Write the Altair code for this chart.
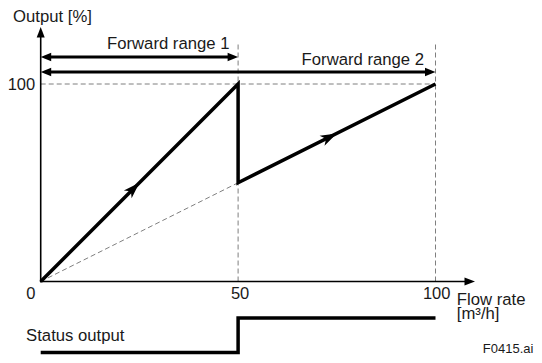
import altair as alt
import pandas as pd

# ---- data (diagram units: flow rate 0..100, output 0..100 %) ----
flow = [0, 50, 50, 100]
output = [0, 100, 50, 100]

status_flow = [0, 50, 50, 100]
status_level = [-35.9, -35.9, -18.5, -18.5]

guide_seg = ["diag", "diag", "h100", "h100", "v50", "v50", "v100", "v100"]
guide_x = [0, 50, 0, 100, 50, 50, 100, 100]
guide_y = [0, 50, 100, 100, 0, 120.8, 0, 120.8]

x_ticks = [0, 50, 100]
x_tick_labels = ["0", "50", "100"]
y_tick_value = 100

range_names = ["Forward range 1", "Forward range 2"]
range_end = [50, 100]
range_level = [113.7, 106.1]

X_AXIS_END = 110
Y_AXIS_END = 128.9

FONT = "Liberation Sans"
INK = "#1a1a1a"

xs = alt.Scale(domain=[0, 100], range=[32.7, 427.5], nice=False, zero=False)
ys = alt.Scale(domain=[0, 100], range=[273.5, 76], nice=False, zero=False)


def X(f="x"):
    return alt.X(f"{f}:Q", scale=xs, axis=None)


def Y(f="y"):
    return alt.Y(f"{f}:Q", scale=ys, axis=None)


layers = []

# dashed guides
gdf = pd.DataFrame({"seg": guide_seg, "x": guide_x, "y": guide_y,
                    "i": list(range(len(guide_x)))})
layers.append(
    alt.Chart(gdf).mark_line(color="#7f7f7f", strokeWidth=1, strokeDash=[5, 3])
    .encode(x=X(), y=Y(), detail="seg:N", order="i:Q")
)

# axes
adf = pd.DataFrame({"seg": ["x", "x", "y", "y"],
                    "x": [0, X_AXIS_END - 1.5, 0, 0],
                    "y": [0, 0, 0, Y_AXIS_END - 3],
                    "i": [0, 1, 2, 3]})
layers.append(
    alt.Chart(adf).mark_line(color="#000", strokeWidth=1.6, strokeCap="square")
    .encode(x=X(), y=Y(), detail="seg:N", order="i:Q")
)

# range arrows
rdf = pd.DataFrame({"name": range_names,
                    "x": [1.5] * 2,
                    "x2": [e - 1.5 for e in range_end],
                    "y": range_level})
layers.append(
    alt.Chart(rdf).mark_rule(color="#000", strokeWidth=3)
    .encode(x=X(), x2="x2:Q", y=Y())
)

# main characteristic
mdf = pd.DataFrame({"x": flow, "y": output, "i": list(range(len(flow)))})
layers.append(
    alt.Chart(mdf).mark_line(color="#000", strokeWidth=3.5, strokeJoin="miter",
                             strokeMiterLimit=20)
    .encode(x=X(), y=Y(), order="i:Q")
)

# status output
sdf = pd.DataFrame({"x": status_flow, "y": status_level,
                    "i": list(range(len(status_flow)))})
layers.append(
    alt.Chart(sdf).mark_line(color="#000", strokeWidth=3.5, strokeJoin="miter")
    .encode(x=X(), y=Y(), order="i:Q")
)

# arrowheads (tip at the data point, pointing up before rotation)
AXIS_HEAD = "M0,0L0.8,2.1L-0.8,2.1Z"
RANGE_HEAD = "M0,0L0.85,2.1L-0.85,2.1Z"
LINE_HEAD = "M0,0L1.1,3.3L0,2.4L-1.1,3.3Z"
hdf = pd.DataFrame({
    "x": [0, X_AXIS_END, 0, range_end[0], 0, range_end[1], 25, 75],
    "y": [Y_AXIS_END, 0, range_level[0], range_level[0],
          range_level[1], range_level[1], 50, 75],
    "shape": [AXIS_HEAD, AXIS_HEAD, RANGE_HEAD, RANGE_HEAD, RANGE_HEAD,
              RANGE_HEAD, LINE_HEAD, LINE_HEAD],
    "angle": [0, 90, 270, 90, 270, 90, 45, 63.4],
})
layers.append(
    alt.Chart(hdf).mark_point(filled=True, color="#000", opacity=1, size=100,
                              strokeWidth=0)
    .encode(x=X(), y=Y(),
            shape=alt.Shape("shape:N", scale=None),
            angle=alt.Angle("angle:Q", scale=None))
)


def label(text, x, y, align="left", size=16.7):
    return alt.Chart(pd.DataFrame({"t": [text]})).mark_text(
        font=FONT, fontSize=size, color=INK, align=align,
        baseline="alphabetic"
    ).encode(x=alt.datum(x, scale=xs), y=alt.datum(y, scale=ys), text="t:N")


layers.append(label("Output [%]", -7.0, 131.4))
layers.append(label(range_names[0], 16.8, 117.7))
layers.append(label(range_names[1], 97.1, 109.6, align="right"))
layers.append(label(str(y_tick_value), -1.4, 97.0, align="right", size=16.5))
tick_label_x = [-2.5, 50.5, 100.3]
for v, t, lx in zip(x_ticks, x_tick_labels, tick_label_x):
    layers.append(label(t, lx, -8.9, align="center", size=16.5))
layers.append(label("Flow rate", 105.4, -12.0))
layers.append(label("[m³/h]", 105.4, -18.9))
layers.append(label("Status output", -3.7, -30.1))
layers.append(label("F0415.ai", 124.8, -36.4, align="right", size=13))

chart = alt.layer(*layers).properties(
    width=526, height=347, autosize="none", padding=0
).configure_view(strokeWidth=0)

chart.save("out.html", embed_options={"renderer": "svg", "actions": False})
